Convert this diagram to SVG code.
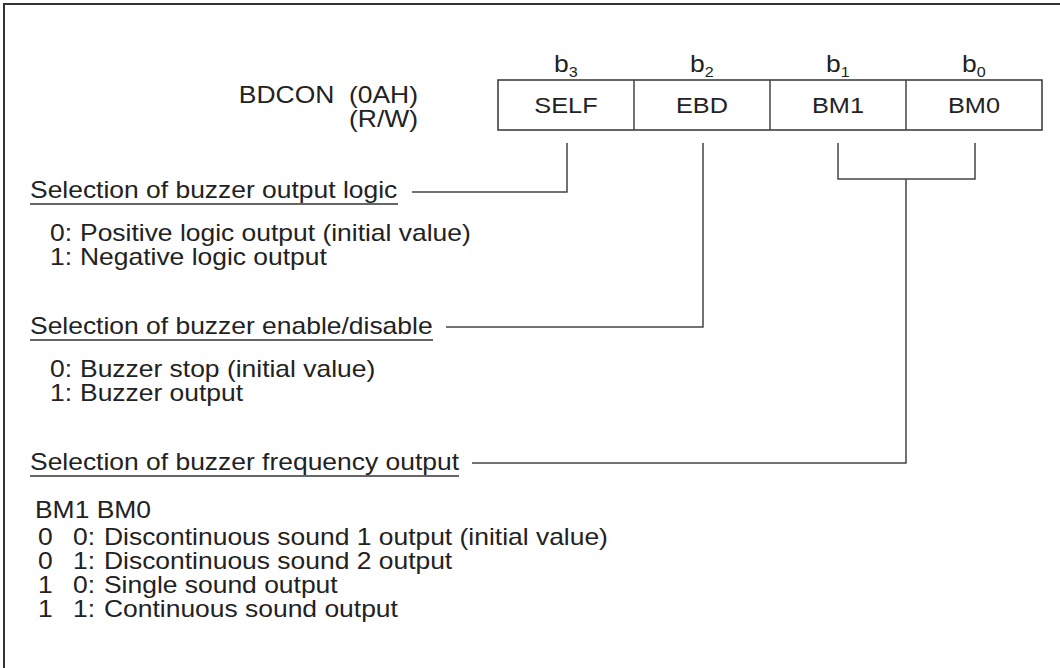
<svg xmlns="http://www.w3.org/2000/svg" width="1060" height="668" viewBox="0 0 1060 668">
<style>
text{font-family:"Liberation Sans",Arial,sans-serif;font-size:23px;fill:#222}
.sub{font-size:14px}
.cell{font-size:22px}
.ln{fill:none;stroke:#444;stroke-width:1.5}
.box{fill:#fff;stroke:#333;stroke-width:1.5}
.ul{stroke:#333;stroke-width:1.5}
</style>
<rect width="1060" height="668" fill="#fff"/>
<path d="M4,668 V4 H1060" fill="none" stroke="#333" stroke-width="2"/>
<g id="register">
<rect class="box" x="498" y="80" width="544" height="50"/>
<path class="ln" d="M634,80V130M770,80V130M906,80V130"/>
<g transform="scale(1.15 1)">
<text x="363.48" y="103" text-anchor="end" xml:space="preserve">BDCON  (0AH)</text>
<text x="363.48" y="127" text-anchor="end">(R/W)</text>
<text x="481.74" y="72">b<tspan class="sub" dy="5">3</tspan></text>
<text x="600" y="72">b<tspan class="sub" dy="5">2</tspan></text>
<text x="718.26" y="72">b<tspan class="sub" dy="5">1</tspan></text>
<text x="836.52" y="72">b<tspan class="sub" dy="5">0</tspan></text>
<text class="cell" x="492.17" y="113" text-anchor="middle">SELF</text>
<text class="cell" x="610.43" y="113" text-anchor="middle">EBD</text>
<text class="cell" x="728.70" y="113" text-anchor="middle">BM1</text>
<text class="cell" x="846.96" y="113" text-anchor="middle">BM0</text>
</g>
</g>
<g id="connectors">
<path class="ln" d="M567,143V192H412"/>
<path class="ln" d="M703,143V327H446"/>
<path class="ln" d="M838,143V179H975V143M906,179V463H472"/>
</g>
<g id="logic">
<line class="ul" x1="30" y1="204" x2="398" y2="204"/>
<g transform="scale(1.15 1)">
<text x="26.09" y="198">Selection of buzzer output logic</text>
<text x="43.48" y="241">0:</text><text x="69.57" y="241">Positive logic output (initial value)</text>
<text x="43.48" y="265">1:</text><text x="69.57" y="265">Negative logic output</text>
</g>
</g>
<g id="enable">
<line class="ul" x1="30" y1="340" x2="433" y2="340"/>
<g transform="scale(1.15 1)">
<text x="26.09" y="334">Selection of buzzer enable/disable</text>
<text x="43.48" y="377">0:</text><text x="69.57" y="377">Buzzer stop (initial value)</text>
<text x="43.48" y="401">1:</text><text x="69.57" y="401">Buzzer output</text>
</g>
</g>
<g id="frequency">
<line class="ul" x1="30" y1="476" x2="459" y2="476"/>
<g transform="scale(1.15 1)">
<text x="26.09" y="470">Selection of buzzer frequency output</text>
<text x="30.43" y="518">BM1 BM0</text>
<text x="33.04" y="545">0</text><text x="63.48" y="545">0:</text><text x="90.43" y="545">Discontinuous sound 1 output (initial value)</text>
<text x="33.04" y="569">0</text><text x="63.48" y="569">1:</text><text x="90.43" y="569">Discontinuous sound 2 output</text>
<text x="33.04" y="593">1</text><text x="63.48" y="593">0:</text><text x="90.43" y="593">Single sound output</text>
<text x="33.04" y="617">1</text><text x="63.48" y="617">1:</text><text x="90.43" y="617">Continuous sound output</text>
</g>
</g>
</svg>
